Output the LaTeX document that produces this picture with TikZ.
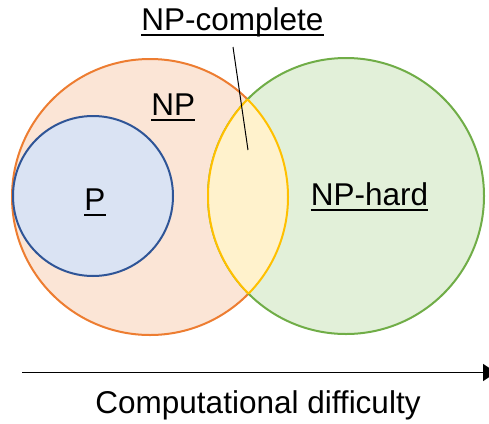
\documentclass[tikz,border=0pt]{standalone}
\usepackage{fontspec}
\setmainfont{Liberation Sans}[Ligatures=CommonOff]
\usetikzlibrary{arrows.meta}

\definecolor{npfill}{HTML}{FBE5D6}
\definecolor{npline}{HTML}{ED7D31}
\definecolor{pfill}{HTML}{DAE3F3}
\definecolor{pline}{HTML}{2F5597}
\definecolor{hardfill}{HTML}{E2F0D9}
\definecolor{hardline}{HTML}{70AD47}
\definecolor{lensfill}{HTML}{FFF2CC}
\definecolor{lensline}{HTML}{FFC000}

\tikzset{
  setcircle/.style={circle, inner sep=0pt, outer sep=0pt, line width=2pt},
  label text/.style={inner sep=0pt, font=\fontsize{31.5}{36}\selectfont, anchor=base},
  ulline/.style={line width=1.8pt},
}

\begin{document}
\begin{tikzpicture}[x=1pt, y=-1pt]
  \useasboundingbox (0,0) rectangle (489,423);

  % the two large overlapping sets
  \node[setcircle, minimum size=276pt, fill=npfill, draw=npline] (np) at (150,197) {};
  \node[setcircle, minimum size=276pt, fill=hardfill, draw=hardline] (hard) at (346,196) {};

  % their intersection: NP-complete
  \begin{scope}
    \clip (np.center) circle (138pt);
    \fill[lensfill] (hard.center) circle (138pt);
    \draw[lensline, line width=2pt] (hard.center) circle (138pt);
  \end{scope}
  \begin{scope}
    \clip (hard.center) circle (138pt);
    \draw[lensline, line width=2pt] (np.center) circle (138pt);
  \end{scope}

  % P inside NP
  \node[setcircle, minimum size=160pt, fill=pfill, draw=pline] (p) at (93,196) {};

  % labels
  \node[label text] (npclabel) at (232.5,30) {NP-complete};
  \node[label text] (nplabel) at (173.3,115) {NP};
  \node[label text] (plabel) at (95,210) {P};
  \node[label text] (hardlabel) at (369.5,205) {NP-hard};

  \foreach \n in {npclabel,nplabel,plabel,hardlabel}
    \draw[ulline] ([yshift=-5pt]\n.base west) -- ([yshift=-5pt]\n.base east);

  % pointer from the NP-complete label into the intersection
  \coordinate (pointerfrom) at (233,47);
  \coordinate (pointerto) at (248,150);
  \draw[line width=1pt] (pointerfrom) -- (pointerto);

  % difficulty axis
  \coordinate (axisfrom) at (22,372.5);
  \coordinate (axisto) at (496,372.5);
  \draw[line width=1.5pt, -{Triangle[length=13pt,width=17pt]}] (axisfrom) -- (axisto);
  \node[label text] (axislabel) at (258,413) {Computational difficulty};
\end{tikzpicture}
\end{document}
